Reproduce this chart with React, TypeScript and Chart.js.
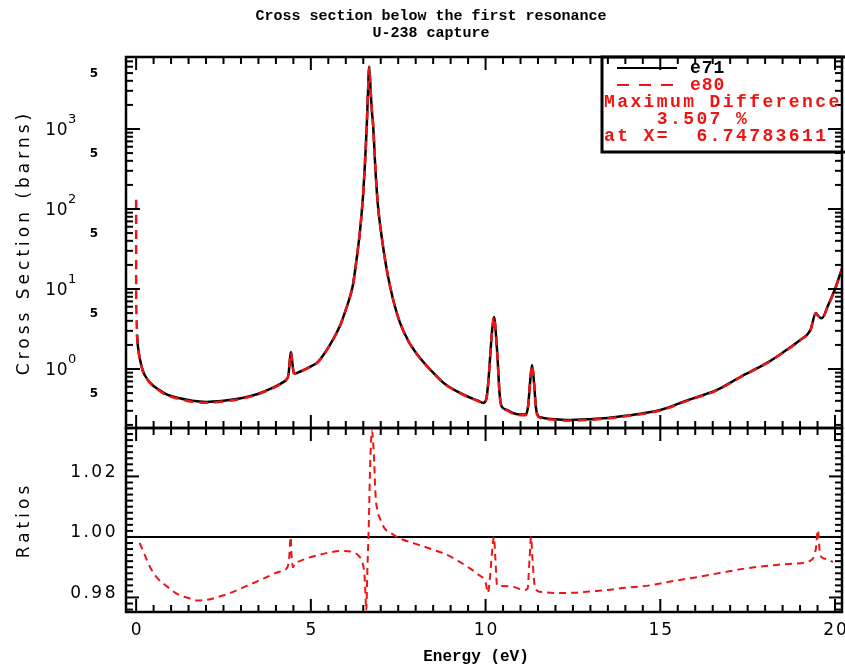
import React, { useEffect, useRef } from "react";
import { Chart, registerables } from "chart.js";

Chart.register(...registerables);

// ---------- text ----------
const TITLE_LINES = ["Cross section below the first resonance", "U-238 capture"];
const X_TITLE = "Energy (eV)";
const Y_TITLE_TOP = "Cross Section (barns)";
const Y_TITLE_BOTTOM = "Ratios";
const SERIES_NAMES = ["e71", "e80"];
const LEGEND_NOTES = ["Maximum Difference", "    3.507 %", "at X=  6.74783611"];

// ---------- axes ----------
const X_MIN = -0.29;
const X_MAX = 20.2;
const XS_MIN = 0.183;
const XS_MAX = 7940;
const RATIO_MIN = 0.9752;
const RATIO_MAX = 1.036;

const X_TICKS = [0, 5, 10, 15, 20];
const X_TICK_LABELS = ["0", "5", "10", "15", "20"];
const XS_TICKS = [0.5, 1, 5, 10, 50, 100, 500, 1000, 5000];
const XS_TICK_LABELS = ["5", "10^0", "5", "10^1", "5", "10^2", "5", "10^3", "5"];
const RATIO_TICKS = [0.98, 1.0, 1.02];
const RATIO_TICK_LABELS = ["0.98", "1.00", "1.02"];
const RATIO_REFERENCE = 1.0;

// ---------- data ----------
const E71_ENERGY = [
  0.0253, 0.05, 0.1, 0.2, 0.3, 0.45, 0.6, 0.8, 1.0, 1.25, 1.6, 2.0, 2.5, 3.0, 3.5, 3.9, 4.2,
  4.3, 4.36, 4.4, 4.43, 4.47, 4.51, 4.56, 4.7, 5.0, 5.2, 5.6, 5.85, 6.0, 6.1, 6.2, 6.3, 6.4,
  6.45, 6.5, 6.55, 6.6, 6.63, 6.67, 6.71, 6.75, 6.78, 6.85, 6.92, 7.0, 7.1, 7.2, 7.35, 7.55,
  7.8, 8.1, 8.5, 8.8, 9.2, 9.5, 9.8, 9.93, 10.02, 10.08, 10.13, 10.18, 10.24, 10.3, 10.35,
  10.4, 10.46, 10.6, 10.8, 11.0, 11.15, 11.22, 11.27, 11.33, 11.39, 11.44, 11.5, 11.56,
  12.0, 12.33, 13.0, 13.48, 14.0, 15.0, 15.8, 16.62, 17.3, 18.05, 18.5, 19.0, 19.3, 19.45,
  19.52, 19.62, 19.8, 20.0, 20.2,
];
const E71_XS = [
  2.7, 1.95, 1.38, 0.93, 0.77, 0.64, 0.57, 0.5, 0.46, 0.43, 0.4, 0.387, 0.4, 0.43, 0.49, 0.58, 0.68,
  0.74, 0.85, 1.3, 1.63, 1.2, 0.9, 0.88, 0.93, 1.08, 1.22, 2.2, 3.6, 5.5, 7.5, 11, 22, 50,
  85, 160, 380, 1100, 2500, 6000, 3000, 1600, 1150, 300, 110, 55, 27, 15, 7.5, 3.8,
  2.2, 1.41, 0.9, 0.67, 0.52, 0.45, 0.4, 0.376, 0.42, 0.7, 1.4, 2.8, 4.47, 2.6, 1.2,
  0.5, 0.34, 0.31, 0.28, 0.27, 0.27, 0.35, 0.65, 1.12, 0.65, 0.33, 0.26, 0.25,
  0.235, 0.23, 0.236, 0.244, 0.26, 0.307, 0.41, 0.547, 0.8, 1.19, 1.6, 2.3, 3.1, 5.0,
  4.6, 4.3, 6.2, 10, 18,
];

const E80_ENERGY = [
  0.00001, 0.001, 0.005, 0.0253, 0.05, 0.1, 0.2, 0.3, 0.45, 0.6, 0.8, 1.0, 1.25, 1.6, 2.0, 2.5,
  3.0, 3.5, 3.9, 4.2, 4.3, 4.36, 4.4, 4.43, 4.47, 4.51, 4.56, 4.7, 5.0, 5.2, 5.6, 5.85, 6.0,
  6.1, 6.2, 6.3, 6.4, 6.45, 6.5, 6.55, 6.6, 6.63, 6.67, 6.71, 6.75, 6.78, 6.85, 6.92, 7.0,
  7.1, 7.2, 7.35, 7.55, 7.8, 8.1, 8.5, 8.8, 9.2, 9.5, 9.8, 9.93, 10.02, 10.08, 10.13, 10.18,
  10.24, 10.3, 10.35, 10.4, 10.46, 10.6, 10.8, 11.0, 11.15, 11.22, 11.27, 11.33, 11.39,
  11.44, 11.5, 11.56, 12.0, 12.33, 13.0, 13.48, 14.0, 15.0, 15.8, 16.62, 17.3, 18.05, 18.5,
  19.0, 19.3, 19.45, 19.52, 19.62, 19.8, 20.0, 20.2,
];
const E80_XS = [
  130, 14, 6, 2.69, 1.94, 1.37, 0.92, 0.76, 0.63, 0.56, 0.49, 0.45, 0.42, 0.39, 0.379, 0.392,
  0.423, 0.483, 0.573, 0.673, 0.733, 0.845, 1.3, 1.63, 1.19, 0.893, 0.874, 0.924, 1.074, 1.213,
  2.19, 3.58, 5.47, 7.46, 10.94, 21.85, 49.6, 84.2, 158, 374, 1075, 2520, 6010, 3080, 1655,
  1175, 305, 111, 55.3, 27.1, 15.0, 7.49, 3.8, 2.19, 1.4, 0.894, 0.664, 0.516, 0.446, 0.395,
  0.371, 0.413, 0.689, 1.39, 2.79, 4.47, 2.58, 1.18, 0.492, 0.335, 0.305, 0.275, 0.265,
  0.265, 0.347, 0.645, 1.12, 0.645, 0.325, 0.256, 0.246, 0.231, 0.226, 0.232, 0.24, 0.256,
  0.303, 0.405, 0.541, 0.792, 1.18, 1.585, 2.28, 3.076, 4.98, 4.575, 4.27, 6.15, 9.92, 17.85,
];

const RATIO_ENERGY = [
  0.1, 0.25, 0.4, 0.6, 0.9, 1.2, 1.5, 1.75, 2.0, 2.3, 2.7, 3.0, 3.4, 3.75, 4.1, 4.32, 4.38,
  4.42, 4.45, 4.49, 4.55, 4.6, 4.9, 5.2, 5.5, 5.85, 6.2, 6.35, 6.47, 6.53, 6.56, 6.585,
  6.62, 6.66, 6.7, 6.7478, 6.8, 6.85, 6.9, 7.0, 7.1, 7.3, 7.55, 8.0, 8.5, 9.0, 9.5, 9.8,
  10.0, 10.07, 10.12, 10.2, 10.24, 10.28, 10.33, 10.5, 10.8, 11.1, 11.2, 11.26, 11.3, 11.34,
  11.42, 11.6, 12.0, 12.6, 13.0, 13.5, 14.0, 14.7, 15.4, 16.1, 16.8, 17.5, 18.2, 18.8, 19.3,
  19.45, 19.51, 19.57, 19.66, 19.8, 19.94,
];
const RATIO = [
  0.998, 0.994, 0.99, 0.9865, 0.9835, 0.981, 0.9798, 0.979, 0.9792, 0.98, 0.9815, 0.983,
  0.985, 0.9868, 0.9885, 0.9898, 0.993, 1.0, 0.9935, 0.99, 0.9915, 0.9917, 0.993, 0.994,
  0.9948, 0.9954, 0.995, 0.994, 0.9917, 0.988, 0.982, 0.9756,
  0.99, 1.005, 1.025, 1.03507, 1.028, 1.014, 1.009, 1.0055, 1.003, 1.0012, 0.9995, 0.9977,
  0.9958, 0.9935, 0.99, 0.9875, 0.985, 0.9815, 0.986, 0.997, 1.0, 0.993, 0.984, 0.9838,
  0.9835, 0.9825, 0.9828, 0.993, 1.0, 0.993, 0.983, 0.9818, 0.9815, 0.9816, 0.982, 0.9825,
  0.9832, 0.984, 0.9855, 0.9868, 0.9883, 0.9897, 0.9906, 0.9912, 0.9922, 0.996, 1.0023,
  0.9945, 0.993, 0.9925, 0.9917,
];

// ---------- style ----------
const RED = "#ee1414";
const BLACK = "#000000";
const MONO = "'Liberation Mono', 'DejaVu Sans Mono', monospace";
const SANS = "'DejaVu Sans', 'Liberation Sans', sans-serif";

function drawText(
  ctx: CanvasRenderingContext2D,
  s: string,
  x: number,
  y: number,
  font: string,
  color: string,
  align: CanvasTextAlign = "center",
  spacing = 0,
  rot = 0
) {
  ctx.save();
  ctx.font = font;
  ctx.fillStyle = color;
  ctx.textAlign = align;
  ctx.textBaseline = "middle";
  (ctx as any).letterSpacing = spacing + "px";
  ctx.translate(x, y);
  if (rot) ctx.rotate(rot);
  ctx.fillText(s, 0, 0);
  ctx.restore();
}

function seg(ctx: CanvasRenderingContext2D, x1: number, y1: number, x2: number, y2: number) {
  ctx.beginPath();
  ctx.moveTo(x1, y1);
  ctx.lineTo(x2, y2);
  ctx.stroke();
}

const decorPlugin = {
  id: "decor",
  afterDatasetsDraw(chart: any) {
    const ctx: CanvasRenderingContext2D = chart.ctx;
    const xs = chart.scales.x;
    const ys = chart.scales.y;
    const yr = chart.scales.yr;
    const L = chart.chartArea.left;
    const R = chart.chartArea.right;
    const panels = [
      { top: ys.top, bottom: ys.bottom },
      { top: yr.top, bottom: yr.bottom },
    ];
    ctx.save();
    ctx.strokeStyle = BLACK;
    ctx.lineCap = "butt";
    ctx.lineWidth = 2;

    // x ticks (inward, every panel edge)
    for (let k = Math.ceil(X_MIN / 0.5); k * 0.5 <= X_MAX; k++) {
      const px = xs.getPixelForValue(k * 0.5);
      const len = k % 10 === 0 ? 13 : 7;
      for (const p of panels) {
        seg(ctx, px, p.top, px, p.top + len);
        seg(ctx, px, p.bottom, px, p.bottom - len);
      }
    }
    // log ticks
    for (let d = -1; d <= 3; d++) {
      for (let m = 1; m <= 9; m++) {
        const v = m * Math.pow(10, d);
        if (v < XS_MIN || v > XS_MAX) continue;
        const py = ys.getPixelForValue(v);
        const len = m === 1 ? 14 : 7;
        seg(ctx, L, py, L + len, py);
        seg(ctx, R, py, R - len, py);
      }
    }
    // ratio ticks
    for (let k = Math.ceil(RATIO_MIN / 0.002 - 1e-9); k * 0.002 <= RATIO_MAX + 1e-9; k++) {
      const py = yr.getPixelForValue(k * 0.002);
      const len = k % 10 === 0 ? 13 : 7;
      seg(ctx, L, py, L + len, py);
      seg(ctx, R, py, R - len, py);
    }
    // frames
    ctx.lineWidth = 2.5;
    for (const p of panels) ctx.strokeRect(L, p.top, R - L, p.bottom - p.top);

    // x tick labels
    xs.ticks.forEach((t: any) => {
      const i = X_TICKS.indexOf(t.value);
      drawText(ctx, X_TICK_LABELS[i], xs.getPixelForValue(t.value) + 1, 631, "17px " + SANS, BLACK, "center", 2);
    });
    // ratio tick labels
    yr.ticks.forEach((t: any) => {
      const i = RATIO_TICKS.findIndex((v) => Math.abs(v - t.value) < 1e-9);
      drawText(ctx, RATIO_TICK_LABELS[i], 118, yr.getPixelForValue(t.value) - 4, "17px " + SANS, BLACK, "right", 2.5);
    });
    // log tick labels
    ys.ticks.forEach((t: any) => {
      const i = XS_TICKS.findIndex((v) => Math.abs(v - t.value) < 1e-9);
      const lab = XS_TICK_LABELS[i];
      const py = ys.getPixelForValue(t.value);
      if (lab.startsWith("10^")) {
        drawText(ctx, "10", 68, py + 2, "17px " + SANS, BLACK, "right", 0.5);
        drawText(ctx, lab.slice(3), 68, py - 9, "13px " + SANS, BLACK, "left", 0);
      } else {
        drawText(ctx, lab, 98, py + 1, "bold 12px " + SANS, BLACK, "right", 0);
      }
    });

    // titles
    drawText(ctx, TITLE_LINES[0], 431, 16, "bold 15px " + MONO, BLACK, "center", 0);
    drawText(ctx, TITLE_LINES[1], 431, 33, "bold 15px " + MONO, BLACK, "center", 0);
    drawText(ctx, X_TITLE, 476, 657, "bold 16px " + MONO, BLACK, "center");
    drawText(ctx, Y_TITLE_TOP, 25, (ys.top + ys.bottom) / 2, "17px " + SANS, BLACK, "center", 4, -Math.PI / 2);
    drawText(ctx, Y_TITLE_BOTTOM, 25, (yr.top + yr.bottom) / 2, "17px " + SANS, BLACK, "center", 4, -Math.PI / 2);

    // legend box
    ctx.lineWidth = 3;
    ctx.strokeRect(602, ys.top, 260, 95);
    const rowY = [68, 85, 102, 119, 136];
    ctx.lineWidth = 2;
    ctx.strokeStyle = BLACK;
    seg(ctx, 617, rowY[0], 677, rowY[0]);
    ctx.strokeStyle = RED;
    ctx.setLineDash([12, 10]);
    seg(ctx, 617, rowY[1], 677, rowY[1]);
    ctx.setLineDash([]);
    const lf = "bold 18px " + MONO;
    drawText(ctx, SERIES_NAMES[0], 690, rowY[0], lf, BLACK, "left", 1);
    drawText(ctx, SERIES_NAMES[1], 690, rowY[1], lf, RED, "left", 1);
    LEGEND_NOTES.forEach((s, i) => drawText(ctx, s, 604, rowY[2 + i], lf, RED, "left", 2.4));
    ctx.restore();
  },
};

const toPoints = (xsArr: number[], ysArr: number[]) => xsArr.map((x, i) => ({ x, y: ysArr[i] }));

const hiddenAxis = {
  grid: { display: false, drawTicks: false, tickLength: 0 },
  border: { display: false },
  ticks: { display: false },
  title: { display: false },
};

export default function App() {
  const ref = useRef<HTMLCanvasElement | null>(null);
  useEffect(() => {
    if (!ref.current) return;
    const chart = new Chart(ref.current, {
      type: "line",
      data: {
        datasets: [
          {
            label: SERIES_NAMES[1],
            data: toPoints(E80_ENERGY, E80_XS),
            yAxisID: "y",
            borderColor: RED,
            borderWidth: 2.5,
            borderDash: [9, 6],
            pointRadius: 0,
            cubicInterpolationMode: "monotone",
          },
          {
            label: SERIES_NAMES[0],
            data: toPoints(E71_ENERGY, E71_XS),
            yAxisID: "y",
            borderColor: BLACK,
            borderWidth: 2.5,
            pointRadius: 0,
            cubicInterpolationMode: "monotone",
          },
          {
            label: "ratio",
            data: toPoints(RATIO_ENERGY, RATIO),
            yAxisID: "yr",
            borderColor: RED,
            borderWidth: 2,
            borderDash: [7, 5],
            pointRadius: 0,
            cubicInterpolationMode: "monotone",
          },
          {
            label: "reference",
            data: toPoints([X_MIN, X_MAX], [RATIO_REFERENCE, RATIO_REFERENCE]),
            yAxisID: "yr",
            borderColor: BLACK,
            borderWidth: 2,
            pointRadius: 0,
          },
        ],
      },
      options: {
        animation: false,
        responsive: false,
        devicePixelRatio: 1,
        layout: { padding: { left: 126, right: 3, top: 57, bottom: 57 } },
        plugins: {
          legend: { display: false },
          tooltip: { enabled: false },
          title: { display: false },
        },
        scales: {
          x: {
            type: "linear",
            min: X_MIN,
            max: X_MAX,
            ...hiddenAxis,
            afterBuildTicks: (s: any) => {
              s.ticks = X_TICKS.map((v) => ({ value: v }));
            },
          },
          yr: {
            type: "linear",
            position: "left",
            stack: "panels",
            stackWeight: 184,
            min: RATIO_MIN,
            max: RATIO_MAX,
            ...hiddenAxis,
            afterBuildTicks: (s: any) => {
              s.ticks = RATIO_TICKS.map((v) => ({ value: v }));
            },
          },
          y: {
            type: "logarithmic",
            position: "left",
            stack: "panels",
            stackWeight: 371,
            min: XS_MIN,
            max: XS_MAX,
            ...hiddenAxis,
            afterBuildTicks: (s: any) => {
              s.ticks = XS_TICKS.map((v) => ({ value: v }));
            },
          },
        },
      } as any,
      plugins: [decorPlugin],
    });
    return () => chart.destroy();
  }, []);
  return (
    <div style={{ position: "absolute", left: 0, top: 0, width: 845, height: 669, background: "#fff" }}>
      <canvas ref={ref} width={845} height={669} style={{ display: "block", width: 845, height: 669 }} />
    </div>
  );
}
